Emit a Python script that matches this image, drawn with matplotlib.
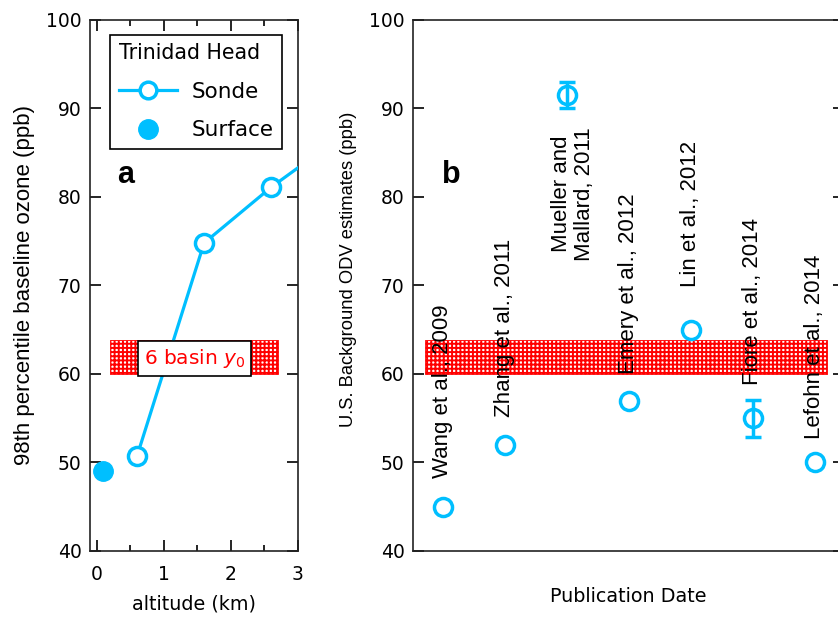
"""
Trinidad Head baseline ozone vs U.S. background ODV estimates
"""

import matplotlib
matplotlib.use('Agg')
import matplotlib.pyplot as plt
from matplotlib.lines import Line2D

plt.rcParams['font.family'] = ['DejaVu Sans']
plt.rcParams['hatch.color'] = 'red'
plt.rcParams['hatch.linewidth'] = 1.4

BLUE = '#00BFFF'
LABEL_FONT = 'Liberation Sans'

# ── data ──────────────────────────────────────────────────────────────────

sonde_alt = [0.6, 1.6, 2.6, 3.6]
sonde_o3 = [50.7, 74.8, 81.1, 86.6]
surface_alt = [0.1]
surface_o3 = [49.0]

basin_lo, basin_hi = 60.0, 63.8

studies = ['Wang et al., 2009', 'Zhang et al., 2011', 'Mueller and\nMallard, 2011',
           'Emery et al., 2012', 'Lin et al., 2012', 'Fiore et al., 2014',
           'Lefohn et al., 2014']
study_pos = [1, 2, 3, 4, 5, 6, 7]
study_odv = [45, 52, 91.5, 57, 65, 55, 50]
study_err = [0, 0, 1.5, 0, 0, 2.1, 0]
# where each study name sits (ppb), and whether it hangs below that point
label_y = [48.2, 55.1, 87.9, 60.0, 69.8, 58.7, 52.6]
label_top = [False, False, True, False, False, False, False]
label_dx = [0, 0, 0.1, 0, 0, 0, 0]

# ── figure ────────────────────────────────────────────────────────────────

fig = plt.figure(figsize=(8.38, 6.17), dpi=100)
ax_a = fig.add_axes([0.1074, 0.107, 0.2482, 0.8606])
ax_b = fig.add_axes([0.4928, 0.107, 0.5142, 0.8606])

for ax in (ax_a, ax_b):
    ax.set_ylim(40, 100)
    ax.set_yticks(range(40, 101, 10))
    for sp in ax.spines.values():
        sp.set_linewidth(1.2)
        sp.set_color('#222222')
    ax.tick_params(axis='y', which='both', direction='in', left=True, right=True,
                   length=8, width=1.2, labelsize=13.5, pad=6)

# ── a ───────────────────────────────────────────────────────────────────

ax_a.set_xlim(-0.1, 3)
ax_a.set_xticks([0, 1, 2, 3])
ax_a.set_xticks([0.5, 1.5, 2.5], minor=True)
ax_a.tick_params(axis='x', which='both', direction='in', top=True, bottom=True,
                 width=1.2, labelsize=13.5, pad=10)
ax_a.tick_params(axis='x', which='major', length=8)
ax_a.tick_params(axis='x', which='minor', length=4.5)

ax_a.fill_between([0.2, 2.7], basin_lo, basin_hi, facecolor='white',
                  edgecolor='red', hatch='++++', linewidth=0.6, zorder=1)
ax_a.plot(sonde_alt, sonde_o3, '-o', color=BLUE, lw=2.3, ms=13, mew=2.5,
          mfc='white', mec=BLUE, zorder=3, clip_on=True)
ax_a.plot(surface_alt, surface_o3, 'o', color=BLUE, ms=14, zorder=3)
ax_a.text(1.455, (basin_lo + basin_hi) / 2 - 0.15, r'6 basin $\mathit{y_0}$',
          color='red', fontsize=14.5, ha='center', va='center', zorder=4,
          bbox=dict(boxstyle='square,pad=0.28', fc='white', ec='black', lw=1.2))
ax_a.text(0.3, 81.6, 'a', fontsize=22, fontweight='bold', family=LABEL_FONT,
          ha='left', va='baseline')

handles = [Line2D([], [], color=BLUE, lw=2.3, marker='o', ms=12, mew=2.5,
                  mfc='white', mec=BLUE),
           Line2D([], [], color=BLUE, lw=0, marker='o', ms=14)]
leg = ax_a.legend(handles, ['Sonde', 'Surface'], title='Trinidad Head',
                  loc='upper left', bbox_to_anchor=(0.096, 0.972), borderaxespad=0,
                  fontsize=15.5, title_fontsize=14.8, alignment='left',
                  handlelength=2.7, handletextpad=0.7, labelspacing=0.85,
                  borderpad=0.4, fancybox=False, framealpha=1, edgecolor='black')
leg.get_frame().set_linewidth(1.2)

ax_a.set_xlabel('altitude (km)', fontsize=13.8, labelpad=8)
ax_a.set_ylabel('98th percentile baseline ozone (ppb)', fontsize=16,
                family=LABEL_FONT, labelpad=8)

# ── b ───────────────────────────────────────────────────────────────────

ax_b.set_xlim(0.516, 7.47)
ax_b.set_xticks([])
ax_b.fill_between([0.71, 7.19], basin_lo, basin_hi, facecolor='white',
                  edgecolor='red', hatch='++++', linewidth=0.6, zorder=1)

for x, y, e in zip(study_pos, study_odv, study_err):
    ax_b.errorbar(x, y, yerr=e if e else None, fmt='o', ms=13, mew=2.5,
                  mfc='none', mec=BLUE, ecolor=BLUE, elinewidth=2.5,
                  capsize=5.5, capthick=2.5, zorder=3)

for name, x, y, top, dx in zip(studies, study_pos, label_y, label_top, label_dx):
    ax_b.text(x + dx, y, name, rotation=90, fontsize=16, family=LABEL_FONT,
              ha='center', va='top' if top else 'bottom',
              multialignment='center', linespacing=1.15, zorder=2)

ax_b.text(0.98, 81.6, 'b', fontsize=22, fontweight='bold', family=LABEL_FONT,
          ha='left', va='baseline')

ax_b.set_xlabel('Publication Date', fontsize=13.8, labelpad=26)
ax_b.set_ylabel('U.S. Background ODV estimates (ppb)', fontsize=13.2,
                family=LABEL_FONT, labelpad=9, y=0.53)

fig.savefig('out.png', dpi=100)
